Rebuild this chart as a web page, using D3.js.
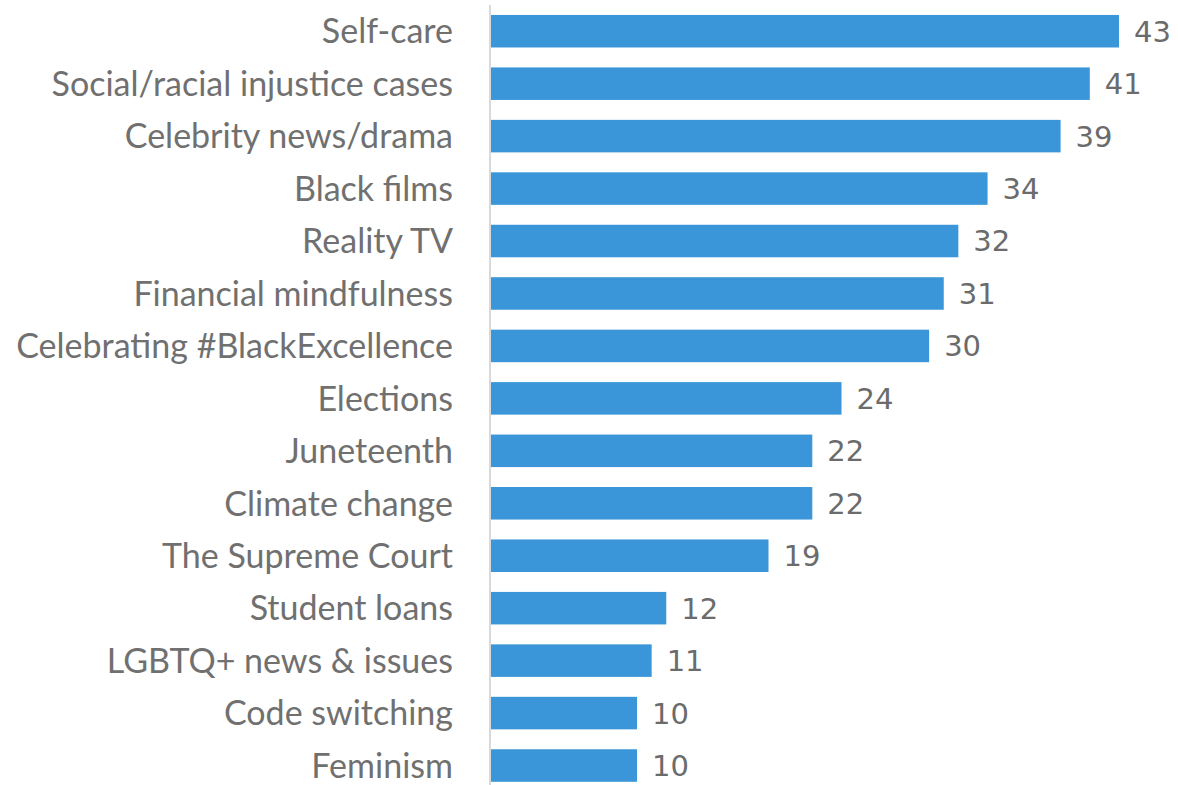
<!DOCTYPE html>
<html>
<head>
<meta charset="utf-8">
<script src="https://cdn.jsdelivr.net/npm/d3@7"></script>
<style>
  body { margin: 0; background: #fff; }
</style>
</head>
<body>
<div id="chart"></div>
<script>
  const categories = [
    "Self-care",
    "Social/racial injustice cases",
    "Celebrity news/drama",
    "Black films",
    "Reality TV",
    "Financial mindfulness",
    "Celebrating #BlackExcellence",
    "Elections",
    "Juneteenth",
    "Climate change",
    "The Supreme Court",
    "Student loans",
    "LGBTQ+ news & issues",
    "Code switching",
    "Feminism",
  ];
  const values = [43, 41, 39, 34, 32, 31, 30, 24, 22, 22, 19, 12, 11, 10, 10];

  const width = 1178;
  const height = 785;
  const axisX = 490;

  const svg = d3
    .select("#chart")
    .append("svg")
    .attr("width", width)
    .attr("height", height);

  const x = d3.scaleLinear().domain([0, 43]).range([axisX + 1, 1119]);

  const y = d3
    .scaleBand()
    .domain(categories)
    .range([5, 5 + 15 * 52.45])
    .paddingInner(0.38)
    .paddingOuter(0.19);

  const data = categories.map((c, i) => ({ cat: c, val: values[i] }));

  // bars
  svg
    .selectAll("rect.bar")
    .data(data)
    .enter()
    .append("rect")
    .attr("class", "bar")
    .attr("x", x(0))
    .attr("y", (d) => y(d.cat))
    .attr("width", (d) => x(d.val) - x(0))
    .attr("height", y.bandwidth())
    .attr("fill", "#3a96d8");

  // vertical axis line
  svg
    .append("line")
    .attr("x1", axisX)
    .attr("x2", axisX)
    .attr("y1", 5)
    .attr("y2", height)
    .attr("stroke", "#d9d9d9")
    .attr("stroke-width", 2);

  // category labels
  svg
    .selectAll("text.cat")
    .data(data)
    .enter()
    .append("text")
    .attr("class", "cat")
    .attr("x", 453)
    .attr("y", (d) => y(d.cat) + y.bandwidth() / 2)
    .attr("dy", "0.36em")
    .attr("text-anchor", "end")
    .attr("font-family", "Lato, 'Open Sans', sans-serif")
    .attr("font-size", "34px")
    .attr("fill", "#707070")
    .text((d) => d.cat);

  // value labels
  svg
    .selectAll("text.val")
    .data(data)
    .enter()
    .append("text")
    .attr("class", "val")
    .attr("x", (d) => x(d.val) + 15)
    .attr("y", (d) => y(d.cat) + y.bandwidth() / 2)
    .attr("dy", "0.36em")
    .attr("font-family", "'DejaVu Sans', Verdana, sans-serif")
    .attr("font-size", "29px")
    .attr("fill", "#6b6b6b")
    .text((d) => d.val);
</script>
</body>
</html>
